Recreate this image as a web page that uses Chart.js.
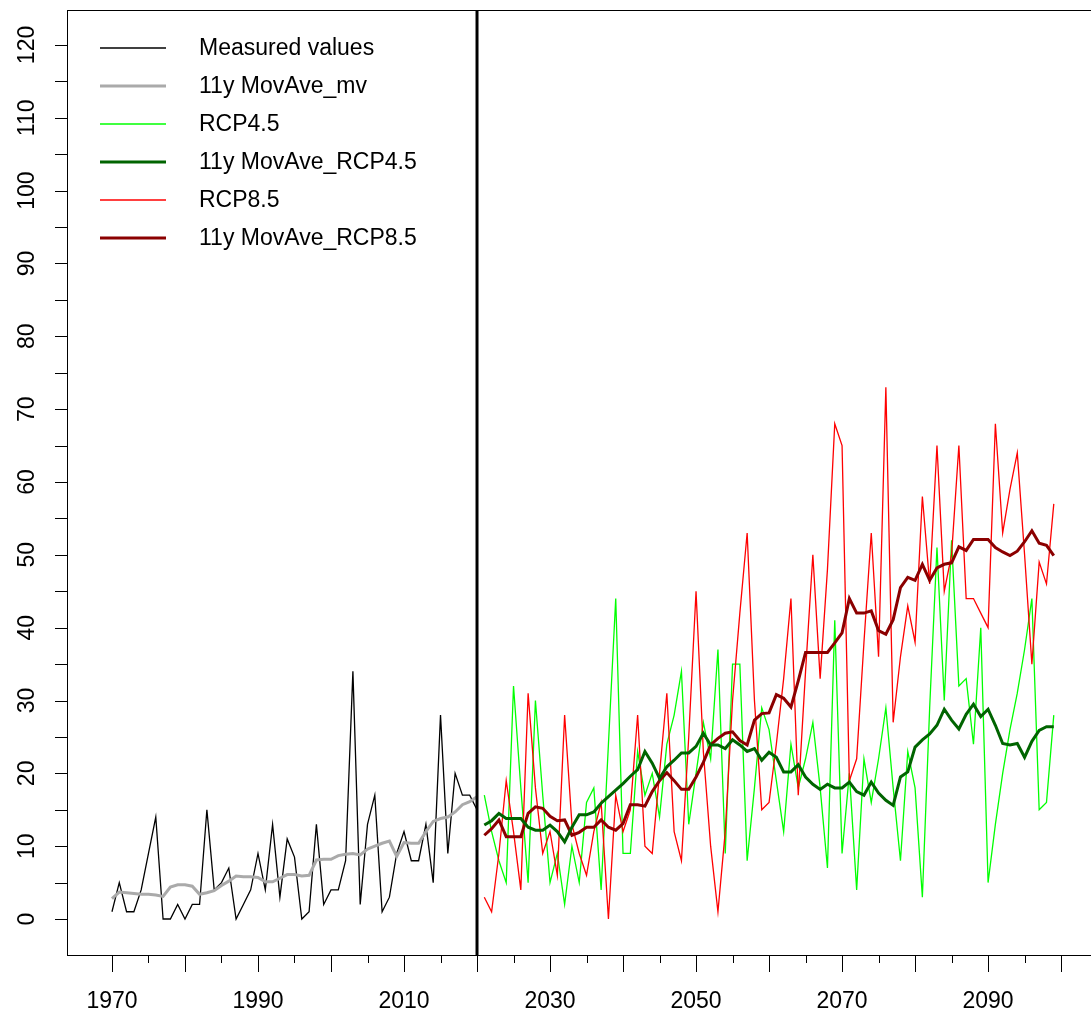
<!DOCTYPE html>
<html>
<head>
<meta charset="utf-8">
<script src="https://cdn.jsdelivr.net/npm/chart.js@4"></script>
<style>
  html, body { margin: 0; padding: 0; background: #fff; overflow: hidden; }
  #wrap { width: 1120px; height: 1012px; }
</style>
</head>
<body>
<div id="wrap"><canvas id="myChart" width="1120" height="1012"></canvas></div>
<script>
// years
const measuredYears = Array.from({length: 51}, (_, i) => 1970 + i);
const futureYears = Array.from({length: 79}, (_, i) => 2021 + i);

// measured values 1970-2020
const measured = [1, 5, 1, 1, 4, 9, 14, 0, 0, 2, 0, 2, 2, 15, 4, 5, 7, 0, 2, 4,
  9, 4, 13, 3, 11, 8.5, 0, 1, 13, 2, 4, 4, 8, 34, 2, 13, 17, 1, 3, 9,
  12, 8, 8, 13, 5, 28, 9, 20, 17, 17, 15];
const maMeasured = [2.8, 3.7, 3.6, 3.5, 3.4, 3.4, 3.3, 3.1, 4.4, 4.7, 4.7, 4.5, 3.4, 3.6, 3.9, 4.6, 5.2, 5.9, 5.8, 5.8,
  5.7, 5.1, 5.1, 5.6, 6.1, 6.1, 5.9, 6.0, 8.1, 8.2, 8.2, 8.7, 8.9, 9.0, 8.8, 9.6, 10.0, 10.4, 10.7, 8.6,
  10.5, 10.4, 10.4, 12.0, 13.4, 13.8, 14.0, 14.7, 15.7, 16.1, 16.8];

// scenarios 2021-2099
const rcp45 = [17, 12, 8, 5, 32, 18, 5, 30, 17, 5, 9, 2, 10, 5, 16, 18, 4, 24, 44,
  9, 9, 23, 17, 20, 14, 24, 28, 34, 13, 20, 27, 22, 37, 9, 35, 35, 8, 18, 29,
  26, 19, 12, 24, 18, 22, 27, 18, 7, 41, 9, 20, 4, 22, 16, 22, 29, 18, 8, 23,
  18, 3, 29, 51, 30, 52, 32, 33, 24, 40, 5, 13, 20, 26, 31, 37, 44, 15, 16, 28];
const maRcp45 = [12.9, 13.5, 14.5, 13.8, 13.8, 13.8, 12.6, 12.2, 12.2, 12.9, 12.0, 10.6, 12.6, 14.3, 14.3, 14.7, 15.9, 16.8, 17.7,
  18.6, 19.6, 20.5, 23.0, 21.4, 19.3, 20.9, 21.8, 22.8, 22.8, 23.7, 25.5, 23.9, 23.9, 23.4, 24.6, 23.9, 23.0, 23.4, 21.8,
  22.9, 22.2, 20.2, 20.2, 21.2, 19.5, 18.5, 17.8, 18.5, 18.0, 18.0, 18.8, 17.5, 17.0, 18.8, 17.3, 16.3, 15.6, 19.5, 20.2,
  23.6, 24.6, 25.4, 26.6, 28.8, 27.3, 26.1, 28.1, 29.5, 27.8, 28.8, 26.6, 24.1, 23.9, 24.1, 22.2, 24.4, 25.9, 26.4, 26.4];
const rcp85 = [3, 1, 9, 19, 12, 4, 31, 18, 9, 12, 6, 28, 13, 9, 6, 12, 16, 0, 17,
  12, 15, 28, 10, 9, 20, 31, 12, 8, 25, 45, 23, 10, 1, 12, 30, 42, 53, 30, 15,
  16, 24, 33, 44, 17, 34, 50, 33, 48, 68, 65, 19, 22, 38, 53, 36, 73, 27, 36, 43,
  38, 58, 46, 65, 45, 50, 65, 44, 44, 42, 40, 68, 53, 59, 64, 50, 35, 49, 46, 57];
const maRcp85 = [11.5, 12.4, 13.6, 11.3, 11.3, 11.3, 14.5, 15.4, 15.2, 14.1, 13.5, 13.6, 11.5, 11.9, 12.6, 12.6, 13.6, 12.6, 12.2,
  13.1, 15.7, 15.7, 15.5, 17.5, 19.0, 20.1, 19.0, 17.8, 17.8, 19.5, 21.5, 23.9, 24.8, 25.5, 25.7, 24.5, 23.9, 27.3, 28.2,
  28.3, 30.8, 30.3, 29.1, 32.7, 36.6, 36.6, 36.6, 36.6, 37.9, 39.3, 44.0, 42.0, 42.0, 42.3, 39.6, 39.1, 41.1, 45.5, 46.9,
  46.5, 48.7, 46.5, 48.2, 48.7, 48.9, 51.1, 50.6, 52.1, 52.1, 52.1, 51.0, 50.4, 49.9, 50.5, 51.8, 53.3, 51.6, 51.3, 49.9];

// axis ticks and labels
const xMajorTicks = [1970, 1980, 1990, 2000, 2010, 2020, 2030, 2040, 2050, 2060, 2070, 2080, 2090, 2100];
const xMinorTicks = [1975, 1985, 1995, 2005, 2015, 2025, 2035, 2045, 2055, 2065, 2075, 2085, 2095];
const xTickLabels = ['1970', '1990', '2010', '2030', '2050', '2070', '2090'];
const yTicks = [0, 5, 10, 15, 20, 25, 30, 35, 40, 45, 50, 55, 60, 65, 70, 75, 80, 85, 90, 95, 100, 105, 110, 115, 120];
const yTickLabels = ['0', '10', '20', '30', '40', '50', '60', '70', '80', '90', '100', '110', '120'];
const splitYear = 2020;

const FONT = '"Liberation Sans", Arial, sans-serif';

function pts(years, vals) {
  return years.map((yr, i) => ({x: yr, y: vals[i]}));
}

const datasets = [
  {label: 'Measured values', data: pts(measuredYears, measured), borderColor: '#000000', borderWidth: 1.3, order: 6},
  {label: '11y MovAve_mv', data: pts(measuredYears, maMeasured), borderColor: '#aaaaaa', borderWidth: 3, order: 5},
  {label: 'RCP4.5', data: pts(futureYears, rcp45), borderColor: '#00ff00', borderWidth: 1.3, order: 4},
  {label: '11y MovAve_RCP4.5', data: pts(futureYears, maRcp45), borderColor: '#006400', borderWidth: 3, order: 1},
  {label: 'RCP8.5', data: pts(futureYears, rcp85), borderColor: '#ff0000', borderWidth: 1.3, order: 3},
  {label: '11y MovAve_RCP8.5', data: pts(futureYears, maRcp85), borderColor: '#8b0000', borderWidth: 3, order: 2}
];
datasets.forEach(d => { d.pointRadius = 0; d.tension = 0; d.fill = false; });

// R-style box, ticks, labels and legend
const rStyle = {
  id: 'rStyle',
  afterDatasetsDraw(chart) {
    const {ctx, chartArea: a, scales: {x}} = chart;
    const px = x.getPixelForValue(splitYear);
    ctx.save();
    ctx.strokeStyle = '#000';
    ctx.lineWidth = 3;
    ctx.beginPath();
    ctx.moveTo(px, a.top);
    ctx.lineTo(px, a.bottom);
    ctx.stroke();
    ctx.restore();
  },
  afterDraw(chart) {
    const {ctx, chartArea: a, scales: {x, y}} = chart;
    ctx.save();
    ctx.strokeStyle = '#000';
    ctx.lineWidth = 1;
    ctx.strokeRect(a.left + 0.5, a.top + 0.5, a.right - a.left, a.bottom - a.top);

    ctx.beginPath();
    xMajorTicks.forEach(v => {
      const px = Math.round(x.getPixelForValue(v)) + 0.5;
      ctx.moveTo(px, a.bottom); ctx.lineTo(px, a.bottom + 17);
    });
    xMinorTicks.forEach(v => {
      const px = Math.round(x.getPixelForValue(v)) + 0.5;
      ctx.moveTo(px, a.bottom); ctx.lineTo(px, a.bottom + 8);
    });
    yTicks.forEach(v => {
      const py = Math.round(y.getPixelForValue(v)) + 0.5;
      ctx.moveTo(a.left, py); ctx.lineTo(a.left - 12, py);
    });
    ctx.stroke();

    ctx.fillStyle = '#000';
    ctx.font = '23px ' + FONT;
    ctx.textAlign = 'center';
    ctx.textBaseline = 'alphabetic';
    xTickLabels.forEach(t => {
      ctx.fillText(t, x.getPixelForValue(Number(t)), a.bottom + 53);
    });
    yTickLabels.forEach(t => {
      ctx.save();
      ctx.translate(34, y.getPixelForValue(Number(t)));
      ctx.rotate(-Math.PI / 2);
      ctx.fillText(t, 0, 0);
      ctx.restore();
    });

    // legend
    ctx.textAlign = 'left';
    ctx.textBaseline = 'middle';
    chart.data.datasets.forEach((d, i) => {
      const ly = 48 + i * 38;
      ctx.strokeStyle = d.borderColor;
      ctx.lineWidth = d.borderWidth;
      ctx.beginPath();
      ctx.moveTo(100, ly); ctx.lineTo(166, ly);
      ctx.stroke();
      ctx.fillText(d.label, 199, ly + 1);
    });
    ctx.restore();
  }
};

const ctx = document.getElementById('myChart');
const myChart = new Chart(ctx, {
  type: 'line',
  data: { datasets: datasets },
  options: {
    responsive: false,
    animation: false,
    devicePixelRatio: 1,
    layout: { padding: { left: 67, top: 10, right: 10, bottom: 57 } },
    plugins: { legend: { display: false }, tooltip: { enabled: false } },
    scales: {
      x: { type: 'linear', min: 1963.84, max: 2106.7, display: false },
      y: { type: 'linear', min: -4.94, max: 124.8, display: false }
    }
  },
  plugins: [rStyle]
});
</script>
</body>
</html>
